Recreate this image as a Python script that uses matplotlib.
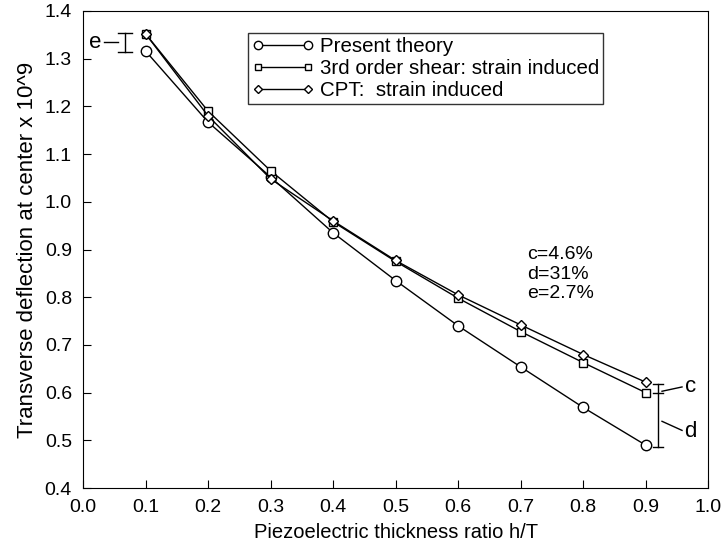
import matplotlib
matplotlib.use("Agg")
import matplotlib.pyplot as plt

plt.rcParams['font.family'] = ['Liberation Sans', 'DejaVu Sans']

ratio = [0.1, 0.2, 0.3, 0.4, 0.5, 0.6, 0.7, 0.8, 0.9]
present = [1.316, 1.167, 1.052, 0.935, 0.835, 0.740, 0.654, 0.569, 0.490]
shear3 = [1.352, 1.190, 1.065, 0.958, 0.875, 0.798, 0.728, 0.663, 0.600]
cpt = [1.352, 1.180, 1.048, 0.960, 0.877, 0.805, 0.742, 0.680, 0.622]
labels = ["Present theory", "3rd order shear: strain induced", "CPT:  strain induced"]
xticks = [0.0, 0.1, 0.2, 0.3, 0.4, 0.5, 0.6, 0.7, 0.8, 0.9, 1.0]
yticks = [0.4, 0.5, 0.6, 0.7, 0.8, 0.9, 1.0, 1.1, 1.2, 1.3, 1.4]

fig = plt.figure(figsize=(7.22, 5.46), dpi=100)
ax = fig.add_axes([0.115, 0.106, 0.866, 0.874])

mk = dict(color="black", lw=1.0, mfc="white", mec="black", mew=1.0)
ax.plot(ratio, present, marker="o", ms=7.5, label=labels[0], **mk)
ax.plot(ratio, shear3, marker="s", ms=6, label=labels[1], **mk)
ax.plot(ratio, cpt, marker="D", ms=5, label=labels[2], **mk)

# e bracket
bx = 0.067
ax.plot([bx, bx], [1.354, 1.314], color="black", lw=1)
for yy in (1.354, 1.314):
    ax.plot([bx - 0.011, bx + 0.011], [yy, yy], color="black", lw=1)
ax.plot([0.033, bx - 0.011], [1.334, 1.334], color="black", lw=1)
ax.text(0.029, 1.334, "e", fontsize=16, ha="right", va="center")

# c / d bracket
bx = 0.92
ax.plot([bx, bx], [0.618, 0.486], color="black", lw=1)
for yy in (0.618, 0.600, 0.486):
    ax.plot([bx - 0.008, bx + 0.008], [yy, yy], color="black", lw=1)
ax.plot([bx + 0.006, 0.958], [0.603, 0.612], color="black", lw=1)
ax.text(0.962, 0.613, "c", fontsize=16, ha="left", va="center")
ax.plot([bx + 0.006, 0.958], [0.540, 0.521], color="black", lw=1)
ax.text(0.962, 0.518, "d", fontsize=16, ha="left", va="center")

ax.text(0.71, 0.907, "c=4.6%\nd=31%\ne=2.7%", fontsize=14, ha="left", va="top",
        linespacing=1.2)

leg = ax.legend(loc="upper left", bbox_to_anchor=(0.264, 0.954), numpoints=2,
                handlelength=3.0, handletextpad=0.3, fontsize=14.8, frameon=True,
                fancybox=False, edgecolor="black", borderpad=0.2, labelspacing=0.15,
                borderaxespad=0.0, markerscale=0.8)
leg.get_frame().set_linewidth(1.0)

ax.set_xlim(0.0, 1.0)
ax.set_ylim(0.4, 1.4)
ax.set_xticks(xticks)
ax.set_yticks(yticks)
ax.set_xticklabels([f"{v:.1f}" for v in xticks])
ax.set_yticklabels([f"{v:.1f}" for v in yticks])
ax.tick_params(direction="in", length=6, labelsize=14, pad=8)
ax.set_xlabel("Piezoelectric thickness ratio h/T", fontsize=14.5, labelpad=5)
ax.set_ylabel("Transverse deflection at center x 10^9", fontsize=16, labelpad=5)

fig.savefig("out.png", dpi=100)
